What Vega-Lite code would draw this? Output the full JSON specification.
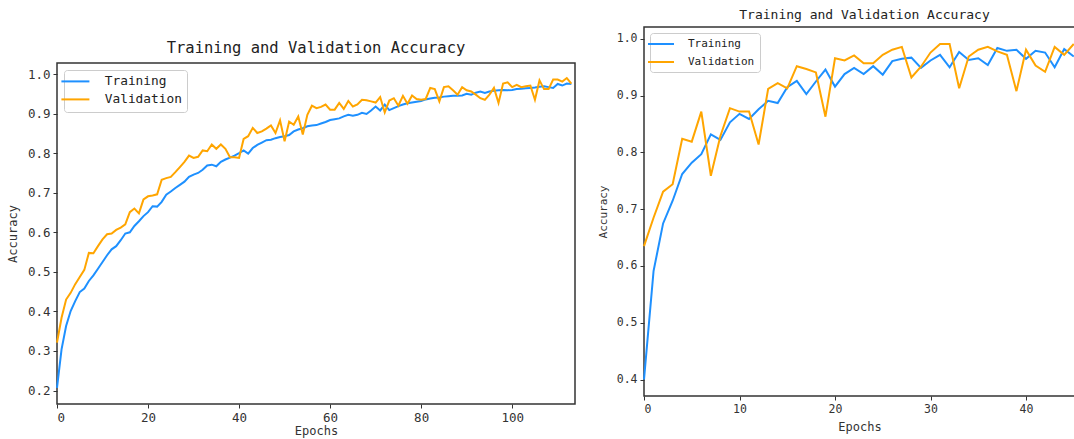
{
  "$schema": "https://vega.github.io/schema/vega-lite/v6.json",
  "padding": {"left": 5, "top": 8, "right": 0, "bottom": 0},
  "background": "white",
  "config": {
    "font": "DejaVu Sans Mono",
    "view": {"stroke": "#333", "strokeWidth": 1.5},
    "concat": {"spacing": 19},
    "axis": {"grid": false, "domain": false, "tickColor": "#333", "tickSize": 4, "tickWidth": 1, "labelColor": "#333", "labelFont": "DejaVu Sans Mono", "labelPadding": 3, "titleColor": "#333", "titleFont": "DejaVu Sans Mono", "titleFontWeight": "normal", "titleFontSize": 12},
    "title": {"font": "DejaVu Sans Mono", "fontWeight": "normal", "color": "#222", "frame": "group", "anchor": "middle"}
  },
  "datasets": {
    "left": [
      {"e":0,"Training":0.207,"Validation":0.321},{"e":1,"Training":0.304,"Validation":0.384},{"e":2,"Training":0.363,"Validation":0.430},{"e":3,"Training":0.401,"Validation":0.447},{"e":4,"Training":0.426,"Validation":0.469},{"e":5,"Training":0.449,"Validation":0.487},{"e":6,"Training":0.458,"Validation":0.505},{"e":7,"Training":0.477,"Validation":0.548},{"e":8,"Training":0.491,"Validation":0.547},{"e":9,"Training":0.508,"Validation":0.565},
      {"e":10,"Training":0.525,"Validation":0.582},{"e":11,"Training":0.542,"Validation":0.595},{"e":12,"Training":0.557,"Validation":0.597},{"e":13,"Training":0.565,"Validation":0.606},{"e":14,"Training":0.580,"Validation":0.612},{"e":15,"Training":0.597,"Validation":0.620},{"e":16,"Training":0.600,"Validation":0.651},{"e":17,"Training":0.616,"Validation":0.660},{"e":18,"Training":0.628,"Validation":0.648},{"e":19,"Training":0.641,"Validation":0.683},
      {"e":20,"Training":0.651,"Validation":0.691},{"e":21,"Training":0.666,"Validation":0.693},{"e":22,"Training":0.665,"Validation":0.696},{"e":23,"Training":0.677,"Validation":0.733},{"e":24,"Training":0.695,"Validation":0.737},{"e":25,"Training":0.703,"Validation":0.740},{"e":26,"Training":0.712,"Validation":0.752},{"e":27,"Training":0.720,"Validation":0.765},{"e":28,"Training":0.728,"Validation":0.778},{"e":29,"Training":0.740,"Validation":0.794},
      {"e":30,"Training":0.746,"Validation":0.788},{"e":31,"Training":0.750,"Validation":0.791},{"e":32,"Training":0.758,"Validation":0.807},{"e":33,"Training":0.769,"Validation":0.805},{"e":34,"Training":0.771,"Validation":0.822},{"e":35,"Training":0.767,"Validation":0.811},{"e":36,"Training":0.778,"Validation":0.822},{"e":37,"Training":0.784,"Validation":0.811},{"e":38,"Training":0.789,"Validation":0.790},{"e":39,"Training":0.794,"Validation":0.790},
      {"e":40,"Training":0.800,"Validation":0.788},{"e":41,"Training":0.807,"Validation":0.836},{"e":42,"Training":0.799,"Validation":0.843},{"e":43,"Training":0.813,"Validation":0.864},{"e":44,"Training":0.821,"Validation":0.851},{"e":45,"Training":0.827,"Validation":0.855},{"e":46,"Training":0.833,"Validation":0.862},{"e":47,"Training":0.834,"Validation":0.870},{"e":48,"Training":0.838,"Validation":0.851},{"e":49,"Training":0.841,"Validation":0.883},
      {"e":50,"Training":0.843,"Validation":0.830},{"e":51,"Training":0.846,"Validation":0.880},{"e":52,"Training":0.855,"Validation":0.872},{"e":53,"Training":0.860,"Validation":0.893},{"e":54,"Training":0.863,"Validation":0.847},{"e":55,"Training":0.868,"Validation":0.897},{"e":56,"Training":0.870,"Validation":0.920},{"e":57,"Training":0.871,"Validation":0.914},{"e":58,"Training":0.875,"Validation":0.917},{"e":59,"Training":0.879,"Validation":0.923},
      {"e":60,"Training":0.884,"Validation":0.910},{"e":61,"Training":0.886,"Validation":0.910},{"e":62,"Training":0.888,"Validation":0.927},{"e":63,"Training":0.893,"Validation":0.912},{"e":64,"Training":0.897,"Validation":0.932},{"e":65,"Training":0.895,"Validation":0.918},{"e":66,"Training":0.897,"Validation":0.923},{"e":67,"Training":0.902,"Validation":0.935},{"e":68,"Training":0.899,"Validation":0.934},{"e":69,"Training":0.908,"Validation":0.931},
      {"e":70,"Training":0.918,"Validation":0.928},{"e":71,"Training":0.908,"Validation":0.942},{"e":72,"Training":0.923,"Validation":0.903},{"e":73,"Training":0.909,"Validation":0.933},{"e":74,"Training":0.914,"Validation":0.939},{"e":75,"Training":0.919,"Validation":0.920},{"e":76,"Training":0.923,"Validation":0.945},{"e":77,"Training":0.926,"Validation":0.925},{"e":78,"Training":0.928,"Validation":0.946},{"e":79,"Training":0.930,"Validation":0.937},
      {"e":80,"Training":0.932,"Validation":0.935},{"e":81,"Training":0.936,"Validation":0.937},{"e":82,"Training":0.938,"Validation":0.965},{"e":83,"Training":0.940,"Validation":0.962},{"e":84,"Training":0.941,"Validation":0.931},{"e":85,"Training":0.943,"Validation":0.967},{"e":86,"Training":0.944,"Validation":0.969},{"e":87,"Training":0.945,"Validation":0.959},{"e":88,"Training":0.945,"Validation":0.948},{"e":89,"Training":0.946,"Validation":0.967},
      {"e":90,"Training":0.950,"Validation":0.959},{"e":91,"Training":0.948,"Validation":0.956},{"e":92,"Training":0.953,"Validation":0.948},{"e":93,"Training":0.956,"Validation":0.939},{"e":94,"Training":0.952,"Validation":0.935},{"e":95,"Training":0.956,"Validation":0.948},{"e":96,"Training":0.958,"Validation":0.965},{"e":97,"Training":0.959,"Validation":0.927},{"e":98,"Training":0.960,"Validation":0.976},{"e":99,"Training":0.959,"Validation":0.979},
      {"e":100,"Training":0.960,"Validation":0.967},{"e":101,"Training":0.962,"Validation":0.973},{"e":102,"Training":0.963,"Validation":0.967},{"e":103,"Training":0.964,"Validation":0.969},{"e":104,"Training":0.965,"Validation":0.971},{"e":105,"Training":0.966,"Validation":0.935},{"e":106,"Training":0.968,"Validation":0.984},{"e":107,"Training":0.969,"Validation":0.962},{"e":108,"Training":0.967,"Validation":0.962},{"e":109,"Training":0.965,"Validation":0.986},
      {"e":110,"Training":0.975,"Validation":0.986},{"e":111,"Training":0.971,"Validation":0.981},{"e":112,"Training":0.976,"Validation":0.990},{"e":113,"Training":0.975,"Validation":0.976}
    ],
    "right": [
      {"e":0,"Training":0.400,"Validation":0.635},{"e":1,"Training":0.591,"Validation":0.685},{"e":2,"Training":0.675,"Validation":0.731},{"e":3,"Training":0.715,"Validation":0.744},{"e":4,"Training":0.762,"Validation":0.824},{"e":5,"Training":0.782,"Validation":0.819},{"e":6,"Training":0.797,"Validation":0.872},{"e":7,"Training":0.832,"Validation":0.759},{"e":8,"Training":0.822,"Validation":0.829},{"e":9,"Training":0.853,"Validation":0.878},
      {"e":10,"Training":0.868,"Validation":0.872},{"e":11,"Training":0.859,"Validation":0.872},{"e":12,"Training":0.876,"Validation":0.814},{"e":13,"Training":0.891,"Validation":0.912},{"e":14,"Training":0.887,"Validation":0.922},{"e":15,"Training":0.915,"Validation":0.913},{"e":16,"Training":0.926,"Validation":0.952},{"e":17,"Training":0.903,"Validation":0.947},{"e":18,"Training":0.925,"Validation":0.941},{"e":19,"Training":0.946,"Validation":0.863},
      {"e":20,"Training":0.916,"Validation":0.966},{"e":21,"Training":0.938,"Validation":0.962},{"e":22,"Training":0.949,"Validation":0.971},{"e":23,"Training":0.938,"Validation":0.957},{"e":24,"Training":0.952,"Validation":0.957},{"e":25,"Training":0.937,"Validation":0.972},{"e":26,"Training":0.961,"Validation":0.981},{"e":27,"Training":0.965,"Validation":0.986},{"e":28,"Training":0.967,"Validation":0.932},{"e":29,"Training":0.949,"Validation":0.951},
      {"e":30,"Training":0.962,"Validation":0.976},{"e":31,"Training":0.972,"Validation":0.991},{"e":32,"Training":0.950,"Validation":0.991},{"e":33,"Training":0.977,"Validation":0.913},{"e":34,"Training":0.963,"Validation":0.969},{"e":35,"Training":0.966,"Validation":0.981},{"e":36,"Training":0.954,"Validation":0.986},{"e":37,"Training":0.984,"Validation":0.978},{"e":38,"Training":0.979,"Validation":0.972},{"e":39,"Training":0.981,"Validation":0.908},
      {"e":40,"Training":0.965,"Validation":0.981},{"e":41,"Training":0.979,"Validation":0.953},{"e":42,"Training":0.976,"Validation":0.942},{"e":43,"Training":0.950,"Validation":0.986},{"e":44,"Training":0.982,"Validation":0.972},{"e":45,"Training":0.969,"Validation":0.991}
    ]
  },
  "hconcat": [
    {"vconcat": [
    {
      "width": 518,
      "height": 11,
      "data": {"values": []},
      "mark": {"type": "rule"},
      "encoding": {},
      "view": {"stroke": "white", "strokeWidth": 0.1}
    },
    {
      "width": 518,
      "height": 341,
      "data": {"name": "left"},
      "transform": [{"fold": ["Training", "Validation"], "as": ["series", "acc"]}],
      "title": {"text": "Training and Validation Accuracy", "fontSize": 15.5, "offset": 7},
      "mark": {"type": "line", "strokeWidth": 2},
      "encoding": {
        "x": {"field": "e", "type": "quantitative", "scale": {"domain": [0, 113.8], "nice": false, "zero": false}, "axis": {"title": "Epochs", "values": [0, 20, 40, 60, 80, 100], "labelFontSize": 12.5, "titlePadding": 2}},
        "y": {"field": "acc", "type": "quantitative", "scale": {"domain": [0.166, 1.028], "nice": false, "zero": false}, "axis": {"title": "Accuracy", "values": [0.2, 0.3, 0.4, 0.5, 0.6, 0.7, 0.8, 0.9, 1.0], "format": ".1f", "labelFontSize": 12.5, "titlePadding": 8}},
        "color": {"field": "series", "type": "nominal", "scale": {"domain": ["Training", "Validation"], "range": ["#1E90FF", "#FFA500"]},
          "legend": {"title": null, "orient": "top-left", "offset": 7, "fillColor": "white", "strokeColor": "#ccc", "cornerRadius": 3, "padding": 5, "symbolType": "M-2.8,0H2.8", "symbolSize": 100, "symbolStrokeWidth": 2, "labelFontSize": 12.8, "labelFont": "DejaVu Sans Mono", "labelColor": "#222", "labelOffset": 23, "rowPadding": 4}}
      }
    }], "spacing": 0, "resolve": {"legend": {"color": "independent"}, "scale": {"color": "independent"}}},
    {
      "width": 431,
      "height": 369,
      "data": {"name": "right"},
      "transform": [{"fold": ["Training", "Validation"], "as": ["series", "acc"]}],
      "title": {"text": "Training and Validation Accuracy", "fontSize": 13, "offset": 5, "dx": 5},
      "mark": {"type": "line", "strokeWidth": 2},
      "encoding": {
        "x": {"field": "e", "type": "quantitative", "scale": {"domain": [0, 45.13], "nice": false, "zero": false}, "axis": {"title": "Epochs", "values": [0, 10, 20, 30, 40], "labelFontSize": 11.5, "titlePadding": 7}},
        "y": {"field": "acc", "type": "quantitative", "scale": {"domain": [0.371, 1.021], "nice": false, "zero": false}, "axis": {"title": "Accuracy", "values": [0.4, 0.5, 0.6, 0.7, 0.8, 0.9, 1.0], "format": ".1f", "labelFontSize": 11.5, "titlePadding": 8, "titleFontSize": 11}},
        "color": {"field": "series", "type": "nominal", "scale": {"domain": ["Training", "Validation"], "range": ["#1E90FF", "#FFA500"]},
          "legend": {"title": null, "orient": "top-left", "offset": 6, "fillColor": "white", "strokeColor": "#ccc", "cornerRadius": 3, "padding": 5, "symbolType": "M-2.6,0H2.6", "symbolSize": 100, "symbolStrokeWidth": 2, "labelFontSize": 11, "labelFont": "DejaVu Sans Mono", "labelColor": "#222", "labelOffset": 21, "rowPadding": 7}}
      }
    }
  ],
  "resolve": {"scale": {"color": "independent", "x": "independent", "y": "independent"}, "legend": {"color": "independent"}}
}
